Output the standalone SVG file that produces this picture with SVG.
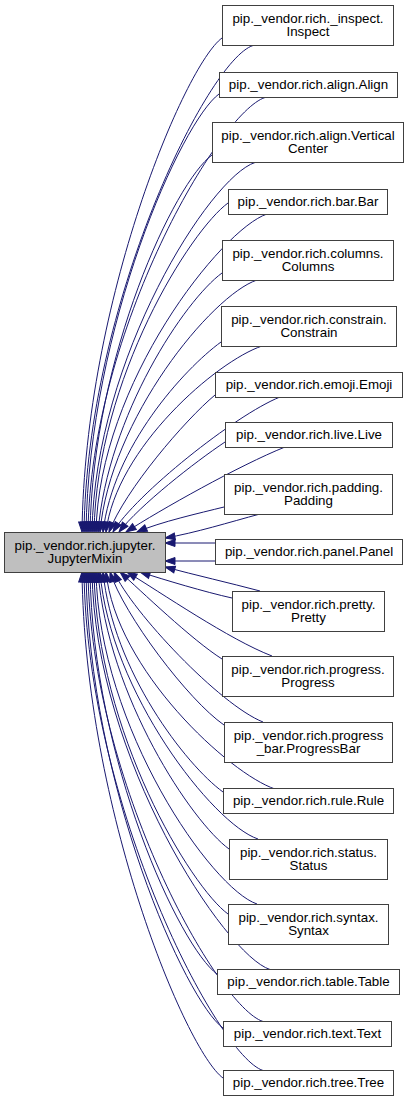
<svg xmlns="http://www.w3.org/2000/svg" width="409" height="1103" viewBox="0 0 409 1103">
<style>
.node rect{fill:#ffffff;stroke:#404040;stroke-width:1}
#main rect{fill:#bfbfbf}
text{font-family:"Liberation Sans",Arial,Helvetica,sans-serif;font-size:13.33px;text-anchor:middle;fill:#000}
.edges path{fill:none;stroke:#191970;stroke-width:1;marker-end:url(#arrow)}
</style>
<defs>
<marker id="arrow" markerWidth="10" markerHeight="7" refX="10" refY="3.5" orient="auto" markerUnits="userSpaceOnUse" overflow="visible">
<path d="M0,0 L10,3.5 L0,7 z" fill="#191970" stroke="#191970"/>
</marker>
</defs>
<rect width="409" height="1103" fill="#ffffff"/>
<g class="edges" id="edges">
<path d="M222,38 C185,65 85,300 82,532"/>
<path d="M253,45.5 C208,60 87,303 84,532"/>
<path d="M219,94 C182,121 89,326 86,532"/>
<path d="M265,97.5 C220,112 91,328 88,532"/>
<path d="M212,155 C175,182 93,355 90,532"/>
<path d="M255,162.5 C210,177 95,358 92,532"/>
<path d="M228,203 C191,230 97,377 94,532"/>
<path d="M267,214 C222,229 99,383 96,532"/>
<path d="M222,273 C185,300 108,415 98,532"/>
<path d="M257,280 C212,295 110,419 100,532"/>
<path d="M221,342 C184,369 113,447 103,532"/>
<path d="M262,346 C217,361 116,448 106,532"/>
<path d="M215,395 C185,420 125,490 109,532"/>
<path d="M280,397 C235,415 135,495 113,532"/>
<path d="M225,442 C195,462 140,505 119,532"/>
<path d="M285,447 C240,465 160,510 126,532"/>
<path d="M224,507 C200,513 160,522 137,532"/>
<path d="M260,514 C230,522 195,533 165,538"/>
<path d="M215,543 L165,543"/>
<path d="M215,561 L165,561"/>
<path d="M260,591 C230,583 195,575 165,567"/>
<path d="M232,598 C205,592 165,580 140,572"/>
<path d="M272,656 C230,640 160,592 127,572"/>
<path d="M222,659 C192,640 140,590 120,572"/>
<path d="M263,722 C220,705 132,612 114,572"/>
<path d="M224,725 C188,700 124,615 110,572"/>
<path d="M275,789 C230,774 116,670 106,572"/>
<path d="M223,792 C186,765 113,671 103,572"/>
<path d="M258,839 C213,824 110,692 100,572"/>
<path d="M229,849 C192,822 108,697 98,572"/>
<path d="M257,904 C212,889 99,728 96,572"/>
<path d="M228,914 C191,887 97,733 94,572"/>
<path d="M270,969.5 C225,955 95,759 92,572"/>
<path d="M217,974 C180,947 93,761 90,572"/>
<path d="M263,1021.5 C218,1007 91,784 88,572"/>
<path d="M223,1028 C186,1001 89,786 86,572"/>
<path d="M263,1070.5 C218,1056 87,807 84,572"/>
<path d="M223,1078 C186,1051 85,810 82,572"/>
</g>
<g class="node" id="main"><rect x="4.5" y="532.5" width="161" height="40"/><text x="85" y="550">pip._vendor.rich.jupyter.</text><text x="85" y="563">JupyterMixin</text></g>
<g class="node" id="inspect"><rect x="222.5" y="5.5" width="171" height="40"/><text x="308" y="23">pip._vendor.rich._inspect.</text><text x="308" y="36">Inspect</text></g>
<g class="node" id="align"><rect x="219.5" y="72.5" width="178" height="25"/><text x="308.5" y="89">pip._vendor.rich.align.Align</text></g>
<g class="node" id="vcenter"><rect x="212.5" y="122.5" width="191" height="40"/><text x="308" y="140">pip._vendor.rich.align.Vertical</text><text x="308" y="153">Center</text></g>
<g class="node" id="bar"><rect x="228.5" y="189.5" width="159" height="25"/><text x="308" y="206">pip._vendor.rich.bar.Bar</text></g>
<g class="node" id="columns"><rect x="222.5" y="240.5" width="171" height="40"/><text x="308" y="258">pip._vendor.rich.columns.</text><text x="308" y="271">Columns</text></g>
<g class="node" id="constrain"><rect x="221.5" y="306.5" width="175" height="40"/><text x="309" y="324">pip._vendor.rich.constrain.</text><text x="309" y="337">Constrain</text></g>
<g class="node" id="emoji"><rect x="215.5" y="372.5" width="187" height="25"/><text x="309" y="389">pip._vendor.rich.emoji.Emoji</text></g>
<g class="node" id="live"><rect x="225.5" y="422.5" width="167" height="25"/><text x="309" y="439">pip._vendor.rich.live.Live</text></g>
<g class="node" id="padding"><rect x="224.5" y="474.5" width="168" height="40"/><text x="308.5" y="492">pip._vendor.rich.padding.</text><text x="308.5" y="505">Padding</text></g>
<g class="node" id="panel"><rect x="215.5" y="539.5" width="187" height="25"/><text x="309" y="556">pip._vendor.rich.panel.Panel</text></g>
<g class="node" id="pretty"><rect x="232.5" y="591.5" width="152" height="40"/><text x="308.5" y="609">pip._vendor.rich.pretty.</text><text x="308.5" y="622">Pretty</text></g>
<g class="node" id="progress"><rect x="222.5" y="656.5" width="171" height="40"/><text x="308" y="674">pip._vendor.rich.progress.</text><text x="308" y="687">Progress</text></g>
<g class="node" id="progressbar"><rect x="224.5" y="722.5" width="168" height="40"/><text x="308.5" y="740">pip._vendor.rich.progress</text><text x="308.5" y="753">_bar.ProgressBar</text></g>
<g class="node" id="rule"><rect x="223.5" y="788.5" width="170" height="25"/><text x="308.5" y="805">pip._vendor.rich.rule.Rule</text></g>
<g class="node" id="status"><rect x="229.5" y="839.5" width="158" height="40"/><text x="308.5" y="857">pip._vendor.rich.status.</text><text x="308.5" y="870">Status</text></g>
<g class="node" id="syntax"><rect x="228.5" y="904.5" width="160" height="40"/><text x="308.5" y="922">pip._vendor.rich.syntax.</text><text x="308.5" y="935">Syntax</text></g>
<g class="node" id="table"><rect x="217.5" y="969.5" width="182" height="25"/><text x="308.5" y="986">pip._vendor.rich.table.Table</text></g>
<g class="node" id="text"><rect x="223.5" y="1021.5" width="168" height="25"/><text x="307.5" y="1038">pip._vendor.rich.text.Text</text></g>
<g class="node" id="tree"><rect x="223.5" y="1070.5" width="170" height="25"/><text x="308.5" y="1087">pip._vendor.rich.tree.Tree</text></g>
</svg>
